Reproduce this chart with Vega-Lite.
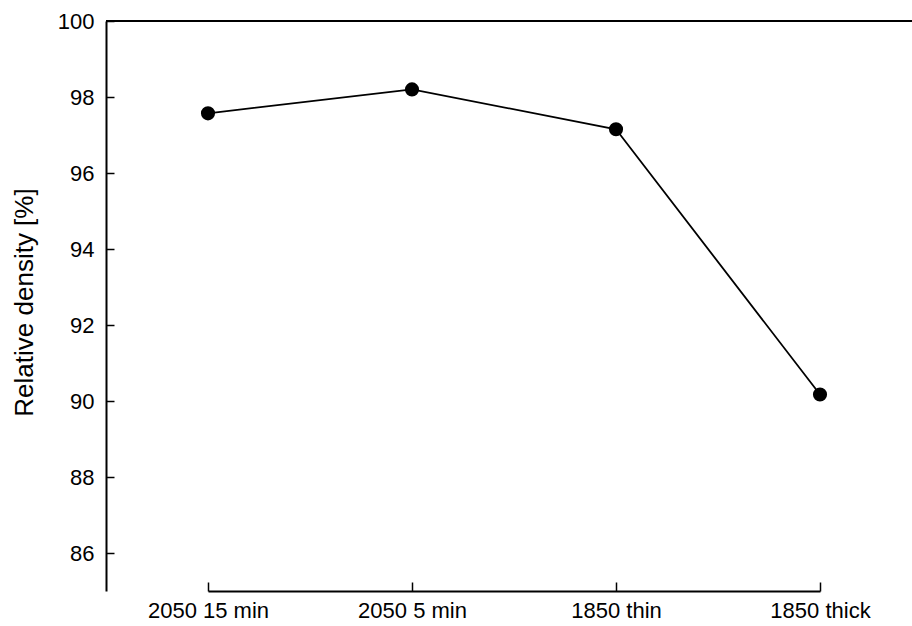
{
  "$schema": "https://vega.github.io/schema/vega-lite/v6.json",
  "autosize": "none",
  "width": 806,
  "height": 570,
  "padding": {"left": 106, "top": 21, "right": 0, "bottom": 35},
  "background": "white",
  "config": {
    "view": {"stroke": null},
    "font": "Liberation Sans",
    "axis": {"grid": false, "domainColor": "black", "domainWidth": 2, "tickColor": "black", "tickWidth": 1.5, "labelColor": "black", "titleColor": "black", "labelFont": "Liberation Sans", "titleFont": "Liberation Sans", "titleFontWeight": "normal"}
  },
  "data": {
    "values": [
      {"condition": "2050 15 min", "density": 97.57},
      {"condition": "2050 5 min", "density": 98.2},
      {"condition": "1850 thin", "density": 97.15},
      {"condition": "1850 thick", "density": 90.17}
    ]
  },
  "layer": [
    {
      "mark": {"type": "rule", "color": "black", "strokeWidth": 2},
      "encoding": {
        "y": {"datum": 100, "type": "quantitative", "scale": {"domain": [85, 100], "nice": false, "zero": false}, "title": "Relative density [%]"}
      }
    },
    {
      "mark": {"type": "line", "color": "black", "strokeWidth": 1.8},
      "encoding": {
        "x": {"field": "condition", "type": "ordinal", "sort": null, "scale": {"type": "point", "range": [102, 714], "padding": 0},
          "axis": {"title": null, "labelAngle": 0, "labelFontSize": 22, "tickSize": -9, "labelPadding": 18}},
        "y": {"field": "density", "type": "quantitative", "scale": {"domain": [85, 100], "nice": false, "zero": false},
          "title": "Relative density [%]",
          "axis": {"values": [86, 88, 90, 92, 94, 96, 98, 100], "labelFontSize": 22, "tickSize": -8, "labelPadding": 20, "titleFontSize": 26, "titleX": -74, "titleY": 281, "titleBaseline": "alphabetic", "titleAngle": -90}}
      }
    },
    {
      "mark": {"type": "point", "filled": true, "color": "black", "opacity": 1, "size": 200},
      "encoding": {
        "x": {"field": "condition", "type": "ordinal", "sort": null},
        "y": {"field": "density", "type": "quantitative", "title": "Relative density [%]"}
      }
    }
  ]
}
